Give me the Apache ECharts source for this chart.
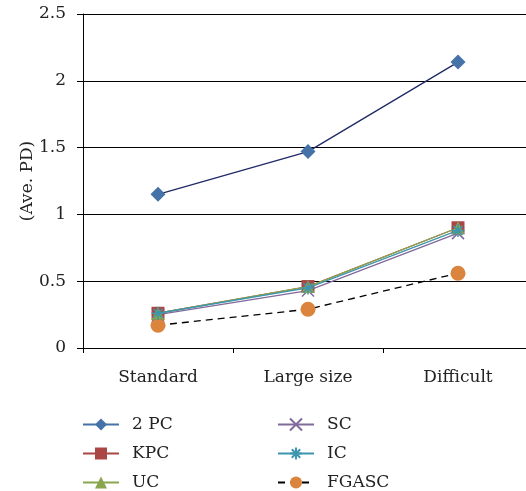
<!DOCTYPE html>
<html>
<head>
<meta charset="utf-8">
<script src="https://cdn.jsdelivr.net/npm/echarts@6/dist/echarts.min.js"></script>
<style>
  html, body { margin: 0; padding: 0; background: #fff; overflow: hidden; }
  #chart { width: 534px; height: 491px; }
</style>
</head>
<body>
<div id="chart"></div>
<script>
// Categories and per-method average PD values
const categories = ['Standard', 'Large size', 'Difficult'];
const pc2   = [1.15, 1.47, 2.14];
const kpc   = [0.26, 0.46, 0.90];
const uc    = [0.26, 0.46, 0.90];
const sc    = [0.25, 0.43, 0.86];
const ic    = [0.26, 0.45, 0.88];
const fgasc = [0.17, 0.29, 0.56];
const yTicks = [0, 0.5, 1, 1.5, 2, 2.5];

const FONT = 'DejaVu Serif';
const FS = 17;

function line(name, data, color, lineColor, symbol, size, extra) {
  return Object.assign({
    name: name,
    type: 'line',
    data: data,
    symbol: symbol,
    symbolSize: size,
    itemStyle: { color: color },
    lineStyle: { color: lineColor, width: 1.3 },
    emphasis: { disabled: true },
    animation: false
  }, extra || {});
}

const legendCommon = {
  orient: 'vertical',
  top: 416,
  height: 80,
  padding: 0,
  itemWidth: 36, itemHeight: 15, itemGap: 12,
  textStyle: { fontSize: FS, fontFamily: FONT, color: '#222', padding: [0, 0, 0, 8] }
};

const chart = echarts.init(document.getElementById('chart'));
chart.setOption({
  backgroundColor: '#fff',
  textStyle: { fontFamily: FONT },
  grid: { left: 83, right: 1, top: 14, height: 334, containLabel: false },
  xAxis: {
    type: 'category',
    data: categories,
    boundaryGap: true,
    axisLine: { lineStyle: { color: '#000', width: 1 } },
    axisTick: { show: true, alignWithLabel: false, length: 5, lineStyle: { color: '#000' } },
    axisLabel: { color: '#222', fontSize: FS, fontFamily: FONT, margin: 21 }
  },
  yAxis: {
    type: 'value',
    min: 0, max: 2.5, interval: 0.5,
    name: '(Ave. PD)',
    nameLocation: 'middle',
    nameGap: 47,
    nameMoveOverlap: false,
    nameTextStyle: { color: '#222', fontSize: FS, fontFamily: FONT },
    axisLine: { show: true, lineStyle: { color: '#000', width: 1 } },
    axisTick: { show: true, inside: false, length: 6, lineStyle: { color: '#000' } },
    axisLabel: {
      color: '#222', fontSize: FS, fontFamily: FONT, margin: 17,
      formatter: v => (yTicks.indexOf(v) >= 0 ? String(v) : '')
    },
    splitLine: { show: true, lineStyle: { color: '#000', width: 1 } }
  },
  legend: [
    Object.assign({
      data: [{ name: '2 PC', lineStyle: { color: '#4572a7' } }, 'KPC', 'UC'],
      left: 82
    }, legendCommon),
    Object.assign({ data: ['SC', 'IC', 'FGASC'], left: 277 }, legendCommon)
  ],
  series: [
    line('FGASC', fgasc, '#db843d', '#000', 'circle', 15, { lineStyle: { color: '#000', width: 1.3, type: [7, 5] }, z: 2 }),
    line('SC', sc, '#80699b', '#80699b', 'path://M-1,-1L1,1M1,-1L-1,1', 12, { itemStyle: { color: 'none', borderColor: '#80699b', borderWidth: 1.5 }, z: 3 }),
    line('2 PC', pc2, '#4572a7', '#1f2a66', 'diamond', 15, { z: 4 }),
    line('KPC', kpc, '#aa4643', '#aa4643', 'rect', 13, { z: 4 }),
    line('UC', uc, '#89a54e', '#89a54e', 'triangle', 13, { z: 5 }),
    line('IC', ic, '#3d96ae', '#3d96ae', 'path://M0,-1L0,1M-1,0L1,0M-0.7,-0.7L0.7,0.7M0.7,-0.7L-0.7,0.7', 13, { itemStyle: { color: 'none', borderColor: '#3d96ae', borderWidth: 1.5 }, z: 6 })
  ]
});
</script>
</body>
</html>
